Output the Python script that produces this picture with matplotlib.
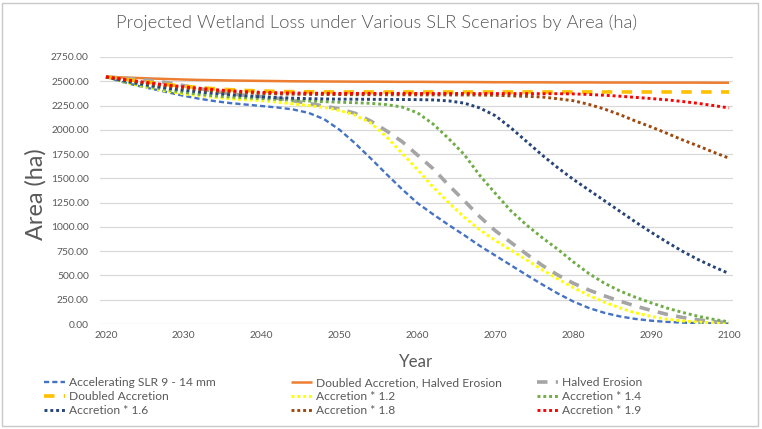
import matplotlib
matplotlib.use("Agg")
import matplotlib.pyplot as plt
from matplotlib.patches import Rectangle

# ---------------- data (every 2 years) ----------------
years = list(range(2020, 2101, 2))

accelerating_slr = [2545, 2495, 2455, 2420, 2385, 2350, 2320, 2295, 2275, 2260,
                    2245, 2230, 2210, 2175, 2110, 2000, 1860, 1705, 1545, 1390,
                    1245, 1130, 1020, 915, 805, 705, 605, 505, 408, 315,
                    232, 165, 115, 78, 52, 34, 22, 14, 9, 6, 4]
doubled_acc_halved_ero = [2545, 2540, 2534, 2528, 2523, 2518, 2514, 2511, 2508, 2506,
                          2504, 2502, 2500, 2499, 2498, 2497, 2496, 2496, 2495, 2494,
                          2494, 2493, 2492, 2492, 2491, 2490, 2490, 2489, 2489, 2488,
                          2488, 2488, 2487, 2487, 2487, 2486, 2486, 2486, 2486, 2485, 2485]
halved_erosion = [2545, 2535, 2520, 2505, 2485, 2455, 2425, 2395, 2370, 2355,
                  2342, 2325, 2300, 2272, 2245, 2215, 2170, 2090, 1990, 1880,
                  1740, 1600, 1430, 1270, 1105, 960, 840, 720, 605, 505,
                  420, 350, 290, 235, 185, 140, 100, 68, 43, 25, 14]
doubled_accretion = [2545, 2525, 2505, 2485, 2465, 2450, 2435, 2423, 2413, 2405,
                     2400, 2396, 2393, 2392, 2391, 2390, 2390, 2390, 2390, 2390,
                     2390, 2390, 2390, 2390, 2390, 2390, 2390, 2390, 2390, 2390,
                     2390, 2390, 2390, 2390, 2390, 2390, 2390, 2390, 2390, 2390, 2390]
accretion_1_2 = [2545, 2500, 2460, 2425, 2395, 2370, 2350, 2333, 2320, 2310,
                 2300, 2285, 2268, 2250, 2230, 2200, 2150, 2070, 1930, 1760,
                 1590, 1410, 1250, 1100, 970, 860, 760, 660, 560, 465,
                 375, 295, 225, 165, 115, 78, 50, 32, 20, 12, 6]
accretion_1_4 = [2545, 2505, 2470, 2440, 2410, 2385, 2365, 2348, 2338, 2330,
                 2322, 2313, 2305, 2297, 2290, 2284, 2279, 2273, 2260, 2235,
                 2175, 2060, 1910, 1745, 1530, 1345, 1165, 1020, 890, 770,
                 640, 520, 420, 340, 275, 218, 165, 120, 80, 48, 22]
accretion_1_6 = [2545, 2510, 2480, 2452, 2428, 2408, 2390, 2375, 2362, 2350,
                 2340, 2332, 2326, 2321, 2318, 2316, 2315, 2314, 2313, 2312,
                 2311, 2308, 2298, 2275, 2225, 2145, 2020, 1880, 1740, 1610,
                 1490, 1380, 1270, 1160, 1050, 945, 845, 750, 665, 590, 520]
accretion_1_8 = [2545, 2520, 2495, 2470, 2450, 2432, 2415, 2400, 2390, 2380,
                 2374, 2370, 2367, 2365, 2364, 2363, 2362, 2362, 2361, 2361,
                 2360, 2360, 2359, 2359, 2358, 2356, 2350, 2345, 2338, 2320,
                 2300, 2262, 2214, 2156, 2090, 2030, 1965, 1897, 1835, 1770, 1708]
accretion_1_9 = [2545, 2522, 2500, 2480, 2460, 2443, 2428, 2413, 2402, 2393,
                 2386, 2382, 2379, 2377, 2376, 2375, 2375, 2375, 2375, 2375,
                 2374, 2374, 2374, 2374, 2373, 2373, 2373, 2373, 2372, 2372,
                 2370, 2364, 2356, 2346, 2334, 2322, 2309, 2292, 2273, 2250, 2225]

series_labels = ["Accelerating SLR 9 - 14 mm", "Doubled Accretion, Halved Erosion",
                 "Halved Erosion", "Doubled Accretion", "Accretion * 1.2",
                 "Accretion * 1.4", "Accretion * 1.6", "Accretion * 1.8",
                 "Accretion * 1.9"]
series_values = [accelerating_slr, doubled_acc_halved_ero, halved_erosion,
                 doubled_accretion, accretion_1_2, accretion_1_4,
                 accretion_1_6, accretion_1_8, accretion_1_9]

y_ticks = [0, 250, 500, 750, 1000, 1250, 1500, 1750, 2000, 2250, 2500, 2750]
x_ticks = [2020, 2030, 2040, 2050, 2060, 2070, 2080, 2090, 2100]

title = "Projected Wetland Loss under Various SLR Scenarios by Area (ha)"
x_title = "Year"
y_title = "Area (ha)"

# ---------------- styles ----------------
styles = [
    ("#4472C4", 1.7, (0, (2.2, 1.3))),
    ("#ED7D31", 1.8, "-"),
    ("#A5A5A5", 2.6, (0, (2.9, 2.3))),
    ("#FFC000", 2.6, (0, (2.9, 2.6))),
    ("#FFFF00", 2.1, (0, (1, 1.0))),
    ("#70AD47", 2.1, (0, (1, 1.0))),
    ("#264478", 2.1, (0, (1, 1.0))),
    ("#9E480E", 2.1, (0, (1, 1.0))),
    ("#FF0000", 2.1, (0, (1, 1.0))),
]

plt.rcParams['font.family'] = ['Lato', 'DejaVu Sans']
TXT = "#595959"

W, H = 762, 429
fig = plt.figure(figsize=(W / 100, H / 100), dpi=100)
renderer = fig.canvas.get_renderer()


def fit_size(text, target_px, weight="normal"):
    t = fig.text(0, 0, text, fontsize=10, fontweight=weight)
    w = t.get_window_extent(renderer).width
    t.remove()
    return 10 * target_px / w


# plot area in pixels
L, R, T, B = 100, 733, 57, 324
ax = fig.add_axes([L / W, 1 - B / H, (R - L) / W, (B - T) / H])
ppy = (729 - 106) / 80.0
ax.set_xlim(2020 - (106 - L) / ppy, 2100 + (R - 729) / ppy)
ax.set_ylim(0, 2750)

handles = []
for lab, vals, (col, lw, ls) in zip(series_labels, series_values, styles):
    ln, = ax.plot(years, vals, color=col, lw=lw, linestyle=ls, label=lab,
                  solid_capstyle="butt", dash_capstyle="butt",
                  solid_joinstyle="round", dash_joinstyle="round")
    handles.append(ln)

tick_fs = fit_size("2750.00", 38)
ax.set_yticks(y_ticks)
ax.set_yticklabels([f"{v:.2f}" for v in y_ticks])
ax.set_xticks(x_ticks)
ax.set_xticklabels([str(v) for v in x_ticks])
ax.tick_params(axis="y", length=0, pad=8, labelsize=tick_fs, labelcolor=TXT)
ax.tick_params(axis="x", length=0, pad=5, labelsize=tick_fs, labelcolor=TXT)
for s in ax.spines.values():
    s.set_visible(False)
ax.grid(axis="y", color="#D9D9D9", lw=0.9)
ax.grid(axis="x", visible=False)
ax.set_axisbelow(True)

# titles
fig.text(377 / W, 1 - 23 / H, title, ha="center", va="center", color=TXT,
         fontsize=fit_size(title, 522, 300), fontweight=300)
fig.text(416 / W, 1 - 362 / H, x_title, ha="center", va="center", color=TXT,
         fontsize=fit_size(x_title, 34))
fig.text(36 / W, 1 - 194 / H, y_title, ha="center", va="center", color=TXT,
         rotation=90, fontsize=fit_size(y_title, 92))

# legend: 3 columns, placed individually
leg_fs = fit_size("Accelerating SLR 9 - 14 mm", 146)
col_x = [44, 291, 537]
for c in range(3):
    hs = [handles[r * 3 + c] for r in range(3)]
    fig.legend(handles=hs, labels=[h.get_label() for h in hs],
               loc="center left", bbox_to_anchor=(col_x[c] / W, 1 - 396.5 / H),
               frameon=False, borderpad=0, borderaxespad=0,
               handlelength=1.75, handletextpad=0.35, labelspacing=0.25,
               fontsize=leg_fs, labelcolor=TXT)

# chart border
fig.patches.append(Rectangle((2 / W, 3 / H), 756 / W, 423 / H,
                             transform=fig.transFigure, fill=False,
                             edgecolor="#C9C9C9", lw=1))

fig.savefig("out.png", dpi=100)
